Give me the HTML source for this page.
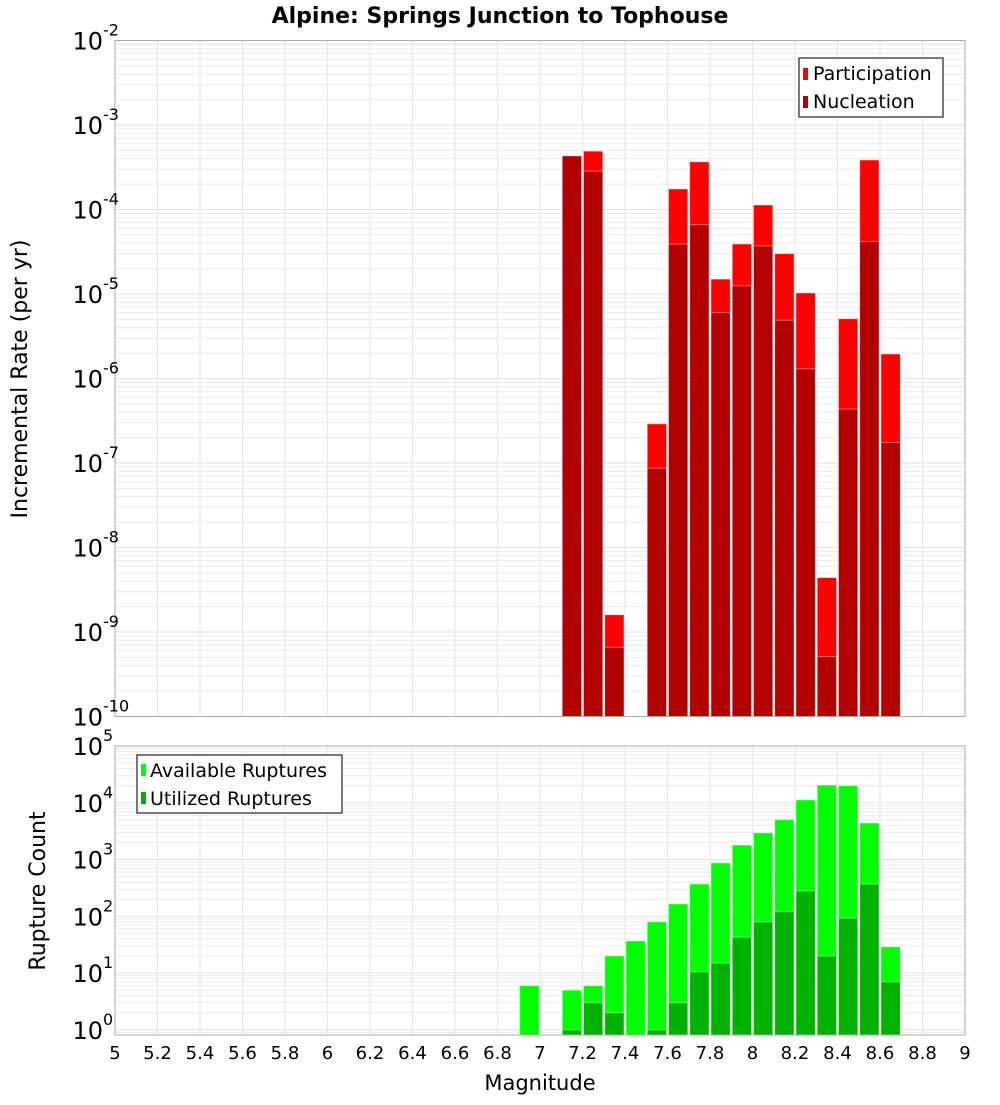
<!DOCTYPE html>
<html><head><meta charset="utf-8"><style>
body{margin:0;background:#fff;width:1000px;height:1100px;overflow:hidden}
svg{font-family:"DejaVu Sans","Liberation Sans",sans-serif}
</style></head><body>
<svg id="chart" width="1000" height="1100" xmlns="http://www.w3.org/2000/svg">
<text x="500" y="23" text-anchor="middle" font-size="22" font-weight="bold">Alpine: Springs Junction to Tophouse</text>
<g id="grid"></g><g id="bars"></g><g id="axes"></g>
<text transform="translate(27,379) rotate(-90)" text-anchor="middle" font-size="22">Incremental Rate (per yr)</text>
<text transform="translate(45,891) rotate(-90)" text-anchor="middle" font-size="22">Rupture Count</text>
<text x="540" y="1090" text-anchor="middle" font-size="21">Magnitude</text>
<g>
<rect x="799" y="58" width="144" height="59" fill="#fff" stroke="#333" stroke-width="1.3"/>
<rect x="803" y="68" width="5" height="12" fill="#ff0000"/>
<text x="813" y="80" font-size="19">Participation</text>
<rect x="803" y="96" width="5" height="12" fill="#b30000"/>
<text x="813" y="108" font-size="19">Nucleation</text>
</g>
<g>
<rect x="137" y="755" width="205" height="58" fill="#fff" stroke="#333" stroke-width="1.3"/>
<rect x="141" y="764" width="5" height="12" fill="#00ff00"/>
<text x="150" y="777" font-size="19">Available Ruptures</text>
<rect x="141" y="792" width="5" height="12" fill="#00b300"/>
<text x="150" y="805" font-size="19">Utilized Ruptures</text>
</g>
</svg>
<script>
const mags=[6.95,7.15,7.25,7.35,7.45,7.55,7.65,7.75,7.85,7.95,8.05,8.15,8.25,8.35,8.45,8.55,8.65];
const participation=[0,4.3e-4,4.9e-4,1.6e-9,0,2.9e-7,1.75e-4,3.66e-4,1.5e-5,3.9e-5,1.13e-4,3e-5,1.03e-5,4.4e-9,5.1e-6,3.85e-4,1.95e-6];
const nucleation=[0,4.3e-4,2.85e-4,6.6e-10,0,8.7e-8,3.9e-5,6.6e-5,6e-6,1.25e-5,3.7e-5,4.9e-6,1.3e-6,5.1e-10,4.35e-7,4.2e-5,1.74e-7];
const available=[6,5,6,20,37,80,165,370,870,1800,2950,5000,11200,20500,20000,4400,29];
const utilized=[0,1,3,2,0,1,3,10.5,15,43,80,120,280,20,93,370,7];
const xTicks=["5","5.2","5.4","5.6","5.8","6","6.2","6.4","6.6","6.8","7","7.2","7.4","7.6","7.8","8","8.2","8.4","8.6","8.8","9"];
const topExp=[-2,-3,-4,-5,-6,-7,-8,-9,-10];
const botExp=[5,4,3,2,1,0];
const NS="http://www.w3.org/2000/svg";
const X0=115,X1=965,XMIN=5,XMAX=9,BW=0.1;
const xs=v=>X0+(v-XMIN)/(XMAX-XMIN)*(X1-X0);
const T={top:40.5,bot:716.5,lo:-10,hi:-2};
const B={top:746,bot:1035,hi:5,lo:-0.09};
const ys=(p,v)=>p.bot-(Math.log10(v)-p.lo)/(p.hi-p.lo)*(p.bot-p.top);
function mk(tag,attrs,parent){const e=document.createElementNS(NS,tag);for(const k in attrs)e.setAttribute(k,attrs[k]);parent.appendChild(e);return e;}
const grid=document.getElementById('grid'),bars=document.getElementById('bars'),axes=document.getElementById('axes');
[T,B].forEach(p=>{
  for(let e=Math.floor(p.lo);e<p.hi;e++)for(let m=1;m<10;m++){const y=ys(p,m*Math.pow(10,e));if(y<p.top||y>p.bot)continue;
    const l=mk('line',{x1:X0,x2:X1,y1:y,y2:y,stroke:m==1?'#e2e2e2':'#ececec','stroke-width':1},grid);
    
    }
  xTicks.forEach(t=>{const x=xs(+t);const l=mk('line',{x1:x,x2:x,y1:p.top,y2:p.bot,stroke:'#e6e6e6','stroke-width':1},grid);
    
    });
  const r=mk('rect',{x:X0,y:p.top,width:X1-X0,height:p.bot-p.top,fill:'none',stroke:'#aaa','stroke-width':1},axes);
  
  
});
function drawBars(p,vals,color,name){
  mags.forEach((m,i)=>{const v=vals[i];if(!v)return;
    const x=xs(m-BW/2)+1,w=xs(m+BW/2)-xs(m-BW/2)-2;let y=ys(p,v);if(y<p.top)y=p.top;
    const r=mk('rect',{x:x,y:y,width:w,height:p.bot-y,fill:color,stroke:'rgba(255,255,255,0.5)','stroke-width':0.8},bars);
    
    });
}
drawBars(T,participation,'#ff0000','participation');
drawBars(T,nucleation,'#b30000','nucleation');
drawBars(B,available,'#00ff00','available');
drawBars(B,utilized,'#00b300','utilized');
function ylab(p,e){const y=ys(p,Math.pow(10,e));
  const t=mk('text',{x:103,y:y+9,'text-anchor':'end','font-size':24},axes);
  
  
  t.textContent='10';
  const s=mk('text',{x:103,y:y-5,'font-size':16},axes);
  
  
  s.textContent=String(e);}
topExp.forEach(e=>ylab(T,e));
botExp.forEach(e=>ylab(B,e));
xTicks.forEach(t=>{const x=xs(+t);
  const l=mk('text',{x:x,y:1059,'text-anchor':'middle','font-size':18},axes);
  
  
  l.textContent=t;});
</script>
</body></html>
